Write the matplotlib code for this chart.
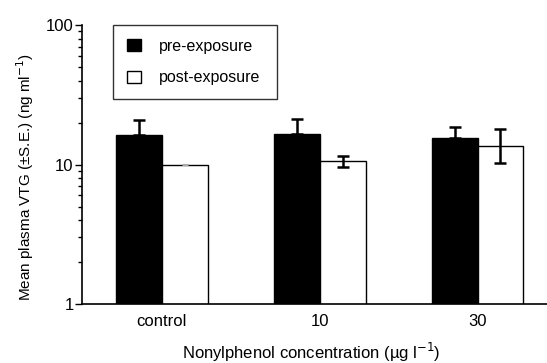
import numpy as np
import matplotlib
matplotlib.use("Agg")
import matplotlib.pyplot as plt
from matplotlib.patches import Patch

plt.rcParams['font.family'] = ['Liberation Sans', 'DejaVu Sans']

groups = ['control', '10', '30']
pre = [16.3, 16.6, 15.6]
pre_err_hi = [4.6, 4.7, 3.1]
post = [10.0, 10.6, 13.6]
post_err_lo = [0.05, 1.05, 3.3]
post_err_hi = [0.05, 0.9, 4.4]

fig = plt.figure(figsize=(5.47, 3.63), dpi=100)
ax = fig.add_axes([0.150, 0.1625, 0.85, 0.7685])

x = np.arange(len(groups))
w = 0.29
ekw = dict(elinewidth=1.8, capthick=1.8, capsize=4.5, ecolor='black')

# pre bars only show the upper whisker
ax.bar(x - w/2, pre, w, color='black', edgecolor='black', linewidth=1,
       yerr=[[0]*3, pre_err_hi], error_kw=ekw)
ax.bar(x[1:] + w/2, post[1:], w, color='white', edgecolor='black', linewidth=1,
       yerr=[post_err_lo[1:], post_err_hi[1:]], error_kw=ekw)
ax.bar(x[0] + w/2, post[0], w, color='white', edgecolor='black', linewidth=1)
# the control error is tiny, drawn grey like a hairline
ax.errorbar(x[0] + w/2, post[0], yerr=[[post_err_lo[0]], [post_err_hi[0]]], fmt='none',
            ecolor='#aaaaaa', elinewidth=0.8, capsize=2.5, capthick=0.8)

ax.set_yscale('log')
ax.set_ylim(1, 100)
ax.set_xlim(-0.506, 2.44)
ax.set_xticks(x)
ax.set_xticklabels(groups)
ax.set_yticks([1, 10, 100])
ax.set_yticklabels(['1', '10', '100'])
ax.tick_params(axis='x', length=0, pad=7, labelsize=12)
ax.tick_params(axis='y', which='major', length=5, width=1, labelsize=12, direction='out', pad=1)
ax.tick_params(axis='y', which='minor', length=3, width=1, direction='out')

for s in ['top', 'right']:
    ax.spines[s].set_visible(False)
for s in ['left', 'bottom']:
    ax.spines[s].set_linewidth(1.2)

ax.set_ylabel('Mean plasma VTG (±S.E.) (ng ml$^{-1}$)', fontsize=11)
ax.yaxis.set_label_coords(-0.1, 0.455)
ax.set_xlabel('Nonylphenol concentration (µg l$^{-1}$)', fontsize=12, va='baseline')
ax.xaxis.set_label_coords(0.494, -0.197)

handles = [Patch(facecolor='black', edgecolor='black', label='pre-exposure'),
           Patch(facecolor='white', edgecolor='black', label='post-exposure')]
leg = ax.legend(handles=handles, loc='upper left', bbox_to_anchor=(0.0667, 0.0, 0.3527, 1.0),
                mode='expand', borderaxespad=0, fancybox=False, edgecolor='black',
                fontsize=11.5, handlelength=0.9, handleheight=0.8, handletextpad=1.1,
                borderpad=0.85, labelspacing=1.05)
leg.get_frame().set_linewidth(1)

fig.savefig('out.png', dpi=100)
